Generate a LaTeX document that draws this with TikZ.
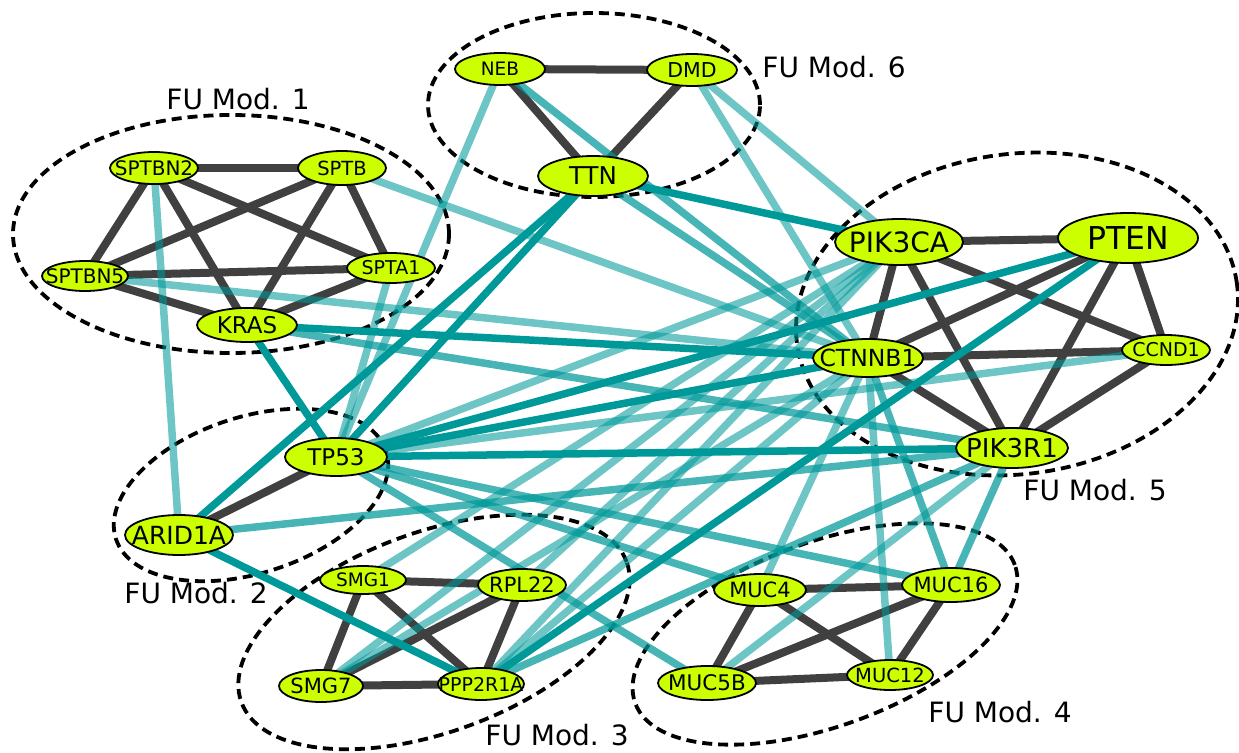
\documentclass[tikz,border=0pt]{standalone}
\usepackage{fontspec}
\setmainfont{DejaVu Sans}
\usetikzlibrary{shapes.geometric}
\definecolor{tealc}{RGB}{0,153,153}
\definecolor{darkc}{RGB}{64,64,64}
\definecolor{nodefill}{RGB}{204,255,0}
\pgfdeclarelayer{rings}
\pgfdeclarelayer{darkedges}
\pgfdeclarelayer{tealedges}
\pgfsetlayers{rings,darkedges,tealedges,main}
\tikzset{
  gene/.style={ellipse, draw=black, line width=1.8pt, fill=nodefill, inner sep=0pt},
  modring/.style={draw=black, line width=3.8pt, dash pattern=on 10pt off 6pt},
  intra/.style={draw=darkc, line width=8pt},
  solidt/.style={draw=tealc, line width=7.5pt},
  medt/.style={draw=tealc, line width=7.5pt, draw opacity=0.72},
  lightt/.style={draw=tealc, line width=7.5pt, draw opacity=0.57},
  modlabel/.style={font=\fontsize{28}{34}\selectfont, inner sep=0pt},
}
\newcommand\gnode[6]{\node[gene, minimum width=#4pt, minimum height=#5pt,
  label={[font=\fontsize{#6}{#6}\selectfont, inner sep=0pt]center:#1}] (#1) at (#2,#3) {};}
\newcommand\dk[2]{\draw[intra] (#1.center) -- (#2.center);}
\newcommand\tl[3]{\draw[#1] (#2.center) -- (#3.center);}
\begin{document}
\begin{tikzpicture}[x=1pt,y=-1pt]
\useasboundingbox (0,0) rectangle (1239,752);
% genes
\gnode{NEB}{500}{69}{90}{32}{18.5}
\gnode{DMD}{692}{70}{90}{32}{20.5}
\gnode{TTN}{593}{176}{110}{40}{24.5}
\gnode{SPTBN2}{154}{168}{88}{32}{20}
\gnode{SPTB}{342}{168}{88}{34}{19.5}
\gnode{SPTBN5}{85}{276}{86}{30}{20}
\gnode{SPTA1}{391}{268}{88}{30}{19}
\gnode{KRAS}{247}{325}{100}{34}{23}
\gnode{PIK3CA}{899}{242}{128}{46}{28}
\gnode{PTEN}{1128}{238}{140}{50}{31.5}
\gnode{CTNNB1}{868}{358}{110}{38}{23.5}
\gnode{CCND1}{1166}{350}{88}{30}{19}
\gnode{PIK3R1}{1012}{448}{112}{40}{26}
\gnode{TP53}{336}{457}{102}{38}{23}
\gnode{ARID1A}{179}{535}{108}{40}{25}
\gnode{SMG1}{363}{580}{86}{28}{18.5}
\gnode{RPL22}{522}{585}{88}{32}{21}
\gnode{SMG7}{321}{686}{84}{32}{21}
\gnode{PPP2R1A}{481}{684}{86}{32}{19}
\gnode{MUC4}{760}{590}{92}{32}{21}
\gnode{MUC16}{951}{585}{98}{34}{21}
\gnode{MUC5B}{707}{683}{98}{34}{21.5}
\gnode{MUC12}{890}{675}{86}{30}{19.5}
% module labels
\node[modlabel] (L1) at (238,99) {FU Mod. 1};
\node[modlabel] (L6) at (834,67) {FU Mod. 6};
\node[modlabel] (L5) at (1095,490) {FU Mod. 5};
\node[modlabel] (L2) at (196,593) {FU Mod. 2};
\node[modlabel] (L3) at (557,735) {FU Mod. 3};
\node[modlabel] (L4) at (1000,712) {FU Mod. 4};
% module rings
\begin{pgfonlayer}{rings}
\draw[modring] (231,234) ellipse (218pt and 119pt);
\draw[modring] (594,105) ellipse (166pt and 92pt);
\draw[modring, rotate around={8:(1017,314)}] (1017,314) ellipse (222pt and 160pt);
\draw[modring, rotate around={18:(251,495)}] (251,495) ellipse (142pt and 78pt);
\draw[modring, rotate around={20:(434,632)}] (434,632) ellipse (205pt and 100pt);
\draw[modring, rotate around={20:(825,634)}] (825,634) ellipse (202pt and 92pt);
\end{pgfonlayer}
% intra-module edges
\begin{pgfonlayer}{darkedges}
\dk{SPTBN2}{SPTB}\dk{SPTBN2}{SPTBN5}\dk{SPTBN2}{SPTA1}\dk{SPTBN2}{KRAS}
\dk{SPTB}{SPTBN5}\dk{SPTB}{SPTA1}\dk{SPTB}{KRAS}
\dk{SPTBN5}{SPTA1}\dk{SPTBN5}{KRAS}\dk{SPTA1}{KRAS}
\dk{NEB}{DMD}\dk{NEB}{TTN}\dk{DMD}{TTN}
\dk{PIK3CA}{PTEN}\dk{PIK3CA}{CTNNB1}\dk{PIK3CA}{PIK3R1}\dk{PIK3CA}{CCND1}
\dk{PTEN}{CTNNB1}\dk{PTEN}{PIK3R1}\dk{PTEN}{CCND1}
\dk{CTNNB1}{CCND1}\dk{CTNNB1}{PIK3R1}\dk{CCND1}{PIK3R1}
\dk{TP53}{ARID1A}
\dk{SMG1}{RPL22}\dk{SMG1}{SMG7}\dk{SMG1}{PPP2R1A}
\dk{RPL22}{SMG7}\dk{RPL22}{PPP2R1A}\dk{SMG7}{PPP2R1A}
\dk{MUC4}{MUC16}\dk{MUC4}{MUC5B}\dk{MUC4}{MUC12}
\dk{MUC16}{MUC5B}\dk{MUC16}{MUC12}\dk{MUC5B}{MUC12}
\end{pgfonlayer}
% inter-module edges
\begin{pgfonlayer}{tealedges}
\tl{lightt}{SPTBN2}{ARID1A}
\tl{lightt}{SPTB}{CTNNB1}
\tl{lightt}{SPTBN5}{CTNNB1}
\tl{lightt}{NEB}{TP53}
\tl{lightt}{SPTA1}{TP53}
\tl{lightt}{DMD}{CTNNB1}
\tl{lightt}{DMD}{PIK3CA}
\tl{medt}{NEB}{CTNNB1}
\tl{medt}{TTN}{CTNNB1}
\tl{lightt}{PIK3CA}{TP53}
\tl{lightt}{CCND1}{TP53}
\tl{lightt}{SMG1}{PIK3CA}
\tl{lightt}{SMG7}{PIK3CA}
\tl{lightt}{SMG7}{CTNNB1}
\tl{lightt}{RPL22}{PIK3CA}
\tl{lightt}{PPP2R1A}{CTNNB1}
\tl{lightt}{PPP2R1A}{PIK3CA}
\tl{lightt}{MUC12}{CTNNB1}
\tl{lightt}{MUC4}{CTNNB1}
\tl{lightt}{MUC5B}{PIK3R1}
\tl{medt}{KRAS}{PIK3R1}
\tl{medt}{TP53}{MUC5B}
\tl{medt}{TP53}{MUC16}
\tl{medt}{TP53}{MUC4}
\tl{medt}{ARID1A}{PIK3R1}
\tl{medt}{CTNNB1}{MUC16}
\tl{medt}{MUC16}{PIK3R1}
\tl{medt}{PPP2R1A}{PIK3R1}
\tl{solidt}{TTN}{TP53}
\tl{solidt}{TTN}{ARID1A}
\tl{solidt}{TTN}{PIK3CA}
\tl{solidt}{KRAS}{TP53}
\tl{solidt}{KRAS}{CTNNB1}
\tl{solidt}{TP53}{PTEN}
\tl{solidt}{TP53}{CTNNB1}
\tl{solidt}{TP53}{PIK3R1}
\tl{solidt}{ARID1A}{PPP2R1A}
\tl{solidt}{PPP2R1A}{PTEN}
\end{pgfonlayer}
\end{tikzpicture}
\end{document}
